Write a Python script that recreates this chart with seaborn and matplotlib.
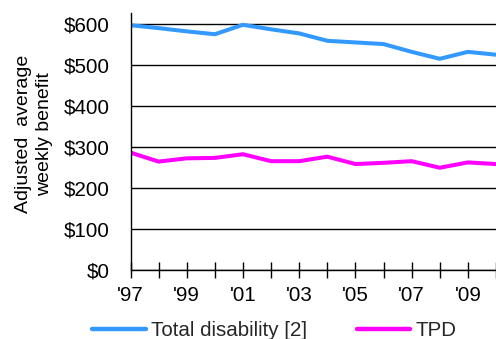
import matplotlib
matplotlib.use("Agg")
import matplotlib.pyplot as plt
import seaborn as sns
import pandas as pd

# Adjusted average weekly benefit by year
years = [1997, 1998, 1999, 2000, 2001, 2002, 2003, 2004, 2005, 2006, 2007, 2008, 2009, 2010]
total_disability = [597, 590, 582, 575, 598, 587, 577, 559, 555, 551, 532, 515, 532, 525]
tpd = [286, 264, 272, 273, 282, 265, 265, 276, 258, 261, 265, 249, 262, 258]

series_names = ["Total disability [2]", "TPD"]
series_colors = ["#3399FF", "#FF00FF"]
y_ticks = [0, 100, 200, 300, 400, 500, 600]
y_tick_labels = ["$0", "$100", "$200", "$300", "$400", "$500", "$600"]
x_label_years = [1997, 1999, 2001, 2003, 2005, 2007, 2009]
x_tick_labels = ["'97", "'99", "'01", "'03", "'05", "'07", "'09"]

df = pd.DataFrame({
    "year": years * 2,
    "benefit": total_disability + tpd,
    "series": [series_names[0]] * len(years) + [series_names[1]] * len(years),
})

sns.set_theme(style="white")
plt.rcParams["font.family"] = ["Liberation Sans", "DejaVu Sans"]

fig = plt.figure(figsize=(4.96, 3.39), dpi=100)
ax = fig.add_axes([130.5 / 496, 1 - 269.7 / 339, 1 - 130.5 / 496, (269.7 - 12.7) / 339])

sns.lineplot(data=df, x="year", y="benefit", hue="series",
             palette=dict(zip(series_names, series_colors)),
             linewidth=2.9, ax=ax, legend=False)

ax.set_ylim(0, 627.6)
ax.set_xlim(1997, 1997 + (496 - 130.5) / 28.83)

ax.set_yticks(y_ticks)
ax.set_yticklabels(y_tick_labels, fontsize=14.8)
ax.set_xticks(x_label_years)
ax.set_xticklabels(x_tick_labels, fontsize=14.8)
ax.set_xticks(years, minor=True)

ax.yaxis.grid(True, color="black", linewidth=1.0)
ax.xaxis.grid(False)
ax.set_axisbelow(True)

for side in ["top", "right"]:
    ax.spines[side].set_visible(False)
for side in ["left", "bottom"]:
    ax.spines[side].set_color("black")
    ax.spines[side].set_linewidth(1.0)

ax.tick_params(axis="y", which="major", direction="out", length=5, width=1,
               color="black", pad=10, labelcolor="black")
ax.tick_params(axis="x", which="both", direction="inout", length=11, width=1,
               color="black", pad=6, labelcolor="black", bottom=True)

ax.set_xlabel("")
ax.set_ylabel("")

fig.text(34 / 496, 1 - 134 / 339, "Adjusted  average\nweekly benefit",
         rotation=90, ha="center", va="center", fontsize=14,
         linespacing=1.27, color="black")

handles = [plt.Line2D([], [], color=c, linewidth=3.2) for c in series_colors]
fig.legend(handles, series_names, loc="center", ncol=2,
           bbox_to_anchor=(0.553, (339 - 331) / 339), frameon=False,
           fontsize=14.8, handlelength=2.6, handletextpad=0.25,
           columnspacing=2.4, borderpad=0.0)

fig.savefig("out.png", dpi=100, facecolor="white")
